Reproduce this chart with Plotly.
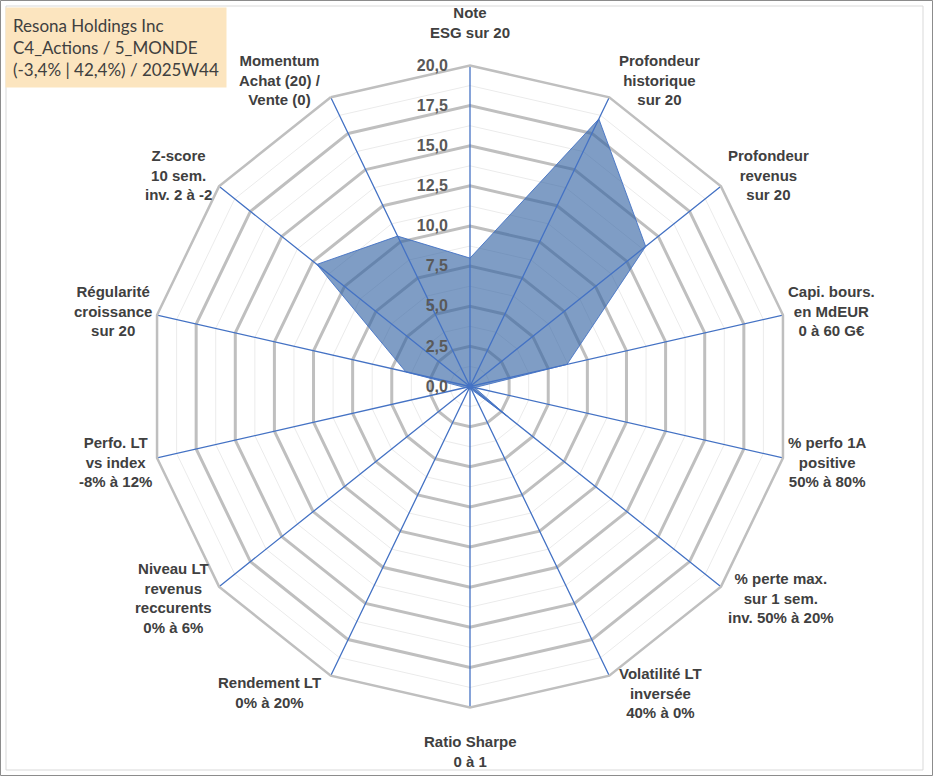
import numpy as np
import plotly.graph_objects as go

# ---------------------------- Data --------------------------------------------------- #

axes_labels = [
    "Note<br>ESG sur 20",
    "Profondeur<br>historique<br>sur 20",
    "Profondeur<br>revenus<br>sur 20",
    "Capi. bours.<br>en MdEUR<br>0 à 60 G€",
    "% perfo 1A<br>positive<br>50% à 80%",
    "% perte max.<br>sur 1 sem.<br>inv. 50% à 20%",
    "Volatilité LT<br>inversée<br>40% à 0%",
    "Ratio Sharpe<br>0 à 1",
    "Rendement LT<br>0% à 20%",
    "Niveau LT<br>revenus<br>reccurents<br>0% à 6%",
    "Perfo. LT<br>vs index<br>-8% à 12%",
    "Régularité<br>croissance<br>sur 20",
    "Z-score<br>10 sem.<br>inv. 2 à -2",
    "Momentum<br>Achat (20) /<br>Vente (0)",
]
scores = [8.0, 18.5, 14.0, 6.2, 0.3, 3.0, 0.2, 0.0, 0.0, 0.0, 0.3, 4.1, 12.2, 10.4]

title_lines = ["Resona Holdings Inc", "C4_Actions / 5_MONDE", "(-3,4% | 42,4%) / 2025W44"]

r_max = 20
major_step = 2.5

# ---------------------------- Geometry of the page ------------------------------- #

W, H = 933, 776
cx, cy, R = 470, 386.5, 321   # centre and outer radius in pixels
lab_rx, lab_ry = 313, 327      # where the axis names sit (the original is a bit squeezed)

n = len(axes_labels)
cats = [lbl.replace("<br>", " ") for lbl in axes_labels]

fig = go.Figure()

# thin minor rings between the major ones
for lvl in np.arange(major_step / 2, r_max, major_step):
    fig.add_trace(go.Scatterpolar(
        r=[lvl] * (n + 1), theta=cats + [cats[0]],
        mode="lines", line=dict(color="#EBEBEB", width=1),
        hoverinfo="skip", showlegend=False))

fig.add_trace(go.Scatterpolar(
    r=scores + [scores[0]],
    theta=cats + [cats[0]],
    mode="lines",
    fill="toself",
    fillcolor="rgba(52,100,163,0.63)",
    line=dict(color="rgba(68,114,196,0.9)", width=1),
    showlegend=False))

# blue spokes drawn over the fill
spoke_r, spoke_t = [], []
for c in cats:
    spoke_r += [0, r_max]
    spoke_t += [c, c]
fig.add_trace(go.Scatterpolar(
    r=spoke_r, theta=spoke_t, mode="lines",
    line=dict(color="#4472C4", width=1.3),
    hoverinfo="skip", showlegend=False))

# axis names, centred like the Excel labels
label_font = dict(family="Liberation Sans", size=15, color="#404040", weight="bold")
annotations = []
for i, lbl in enumerate(axes_labels):
    a = np.radians(i * 360 / n)
    s, c = np.sin(a), np.cos(a)
    vx, vy = cx + lab_rx * s, cy - lab_ry * c
    if abs(s) < 0.2:
        xa = "center"
        ya = "bottom" if c > 0 else "top"
        px_, py_ = vx, vy - 17 * c
    else:
        xa = "left" if s > 0 else "right"
        ya = "middle"
        px_, py_ = vx + 11 * np.sign(s), vy - 13 * c
    annotations.append(dict(
        text=lbl, xref="paper", yref="paper", x=px_ / W, y=1 - py_ / H,
        xanchor=xa, yanchor=ya, align="center", showarrow=False, font=label_font))

annotations.append(dict(
    text="<br>".join(title_lines), xref="paper", yref="paper",
    x=5 / W, y=1 - 7 / H, xanchor="left", yanchor="top", align="left", showarrow=False,
    font=dict(family="Lato", size=17, color="#404040"),
    bgcolor="#FCE5BF", borderpad=7,
))

fig.update_layout(
    width=W, height=H,
    margin=dict(l=0, r=0, t=0, b=0),
    paper_bgcolor="white",
    separators=", ",
    showlegend=False,
    polar=dict(
        domain=dict(x=[(cx - R) / W, (cx + R) / W], y=[1 - (cy + R) / H, 1 - (cy - R) / H]),
        bgcolor="white",
        gridshape="linear",
        radialaxis=dict(
            range=[0, r_max], dtick=major_step, tick0=0, tickformat=".1f",
            angle=90, side="counterclockwise", tickangle=90,
            showline=False, ticks="outside", ticklen=16, tickcolor="rgba(0,0,0,0)",
            gridcolor="#BFBFBF", gridwidth=2.5,
            tickfont=dict(family="Liberation Sans", size=16, color="#595959", weight="bold"),
        ),
        angularaxis=dict(
            type="category", categoryorder="array", categoryarray=cats,
            direction="clockwise", rotation=90,
            showgrid=False, ticks="", showticklabels=False,
            showline=True, linecolor="#BFBFBF", linewidth=2.5,
        ),
    ),
    shapes=[
        dict(type="rect", xref="paper", yref="paper", x0=0.5 / W, x1=1 - 0.5 / W, y0=0.5 / H, y1=1 - 0.5 / H,
             line=dict(color="#8C8C8C", width=1)),
        dict(type="rect", xref="paper", yref="paper", x0=6 / W, x1=923 / W, y0=1 - 770 / H, y1=1 - 6 / H,
             line=dict(color="#D9D9D9", width=1)),
    ],
    annotations=annotations,
)

fig.write_html("out.html", config={"displayModeBar": False},
               post_script="document.body.style.margin='0px';")
